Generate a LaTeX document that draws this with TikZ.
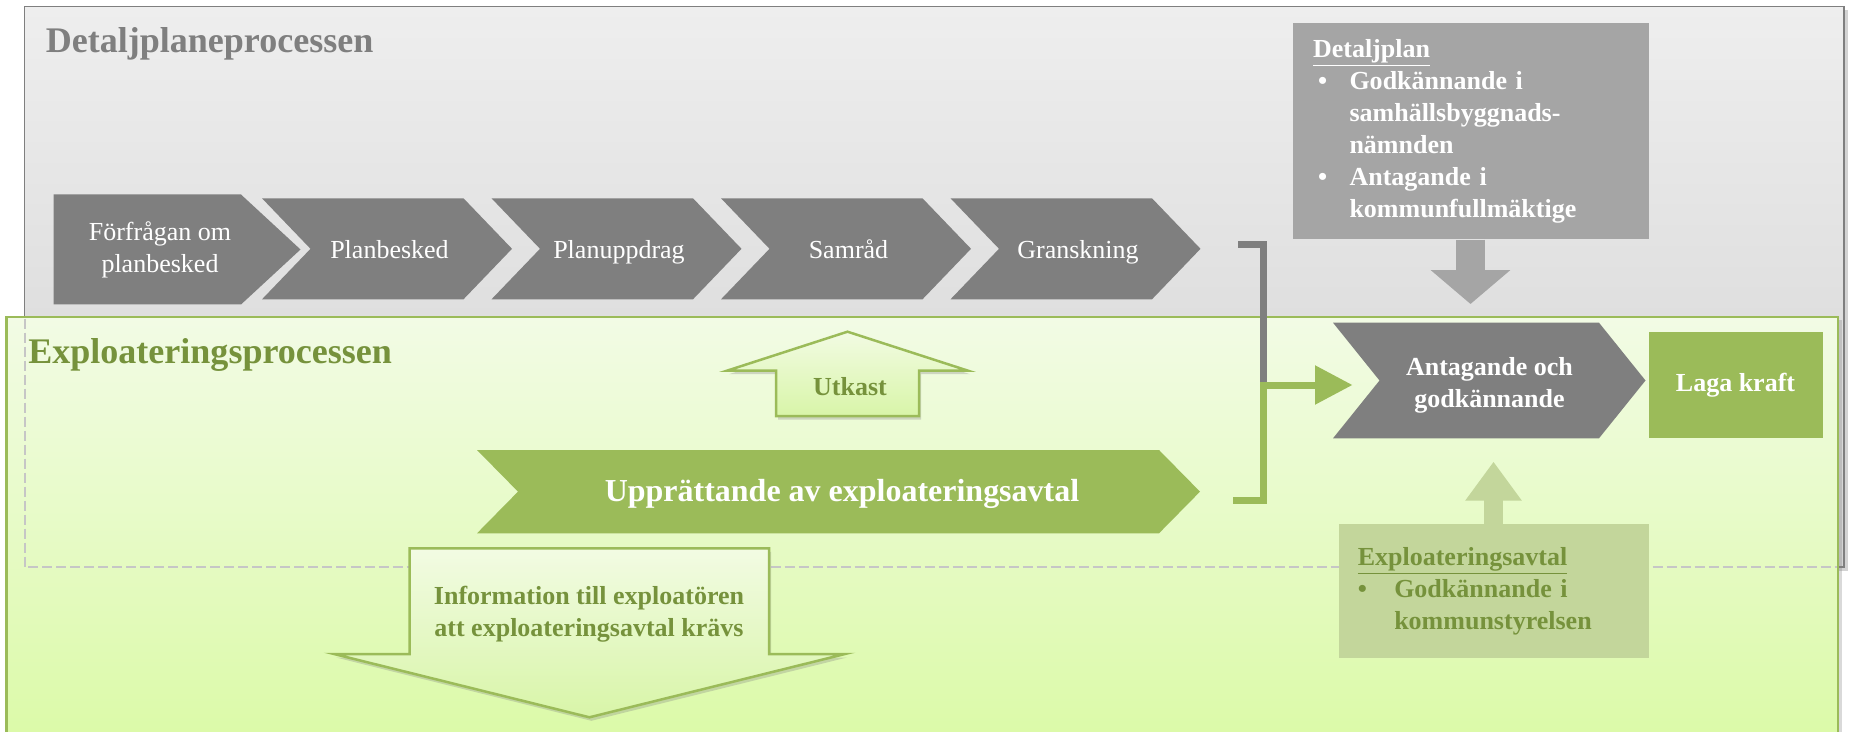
\documentclass[tikz,border=0pt]{standalone}
\usepackage{fontspec}
\setmainfont{Liberation Serif}
\usetikzlibrary{arrows.meta, shadows}

\definecolor{stepgray}{HTML}{7F7F7F}
\definecolor{boxgray}{HTML}{A5A5A5}
\definecolor{plangreen}{HTML}{9BBB59}
\definecolor{palegreen}{HTML}{C3D69B}
\definecolor{darkgreen}{HTML}{76923C}
\definecolor{lanetop}{HTML}{EEEEEE}
\definecolor{lanebot}{HTML}{D3D3D3}
\definecolor{greentop}{HTML}{F2FBE5}
\definecolor{greenbot}{HTML}{DBFAA7}
\definecolor{arrowtop}{HTML}{F2FBE3}
\definecolor{arrowbot}{HTML}{D8F5A8}

\tikzset{
  every node/.style={font=\fontsize{14.8}{18.2}\selectfont, inner sep=0pt},
  title/.style     = {font=\fontsize{20.5}{24}\selectfont\bfseries, anchor=base west},
  graylane/.style  = {draw=stepgray, line width=0.03cm, top color=lanetop, bottom color=lanebot,
                      drop shadow={shadow xshift=0.07cm, shadow yshift=-0.07cm, opacity=0.35}},
  greenlane/.style = {draw=plangreen, line width=0.045cm, top color=greentop, bottom color=greenbot,
                      drop shadow={shadow xshift=0.07cm, shadow yshift=-0.07cm, opacity=0.3}},
  seam/.style      = {draw=gray!45, line width=0.03cm, dash pattern=on 0.2cm off 0.08cm},
  stage/.style     = {fill=stepgray},
  stagetxt/.style  = {text=white, align=center},
  boldtxt/.style   = {font=\fontsize{14.8}{18.2}\selectfont\bfseries, align=center},
  detbox/.style    = {fill=boxgray, text=white, font=\fontsize{14.8}{18.2}\selectfont\bfseries,
                      align=left, text width=6.3cm, inner xsep=0.41cm, minimum height=4.32cm},
  explbox/.style   = {fill=palegreen, text=darkgreen, font=\fontsize{14.8}{18.2}\selectfont\bfseries,
                      align=left, text width=5.43cm, inner xsep=0.385cm, minimum height=2.674cm},
  lagabox/.style   = {fill=plangreen, text=white, font=\fontsize{14.8}{18.2}\selectfont\bfseries,
                      minimum width=3.48cm, minimum height=2.13cm},
  blockarrow/.style = {draw=plangreen, line width=0.05cm, top color=arrowtop, bottom color=arrowbot,
                       drop shadow={shadow xshift=0.04cm, shadow yshift=-0.07cm, opacity=0.3}},
  grayconn/.style  = {draw=stepgray, line width=0.14cm},
  greenconn/.style = {draw=plangreen, line width=0.14cm, -{Triangle[length=0.75cm,width=0.75cm]}},
  downblock/.style = {draw=boxgray, line width=0.58cm, -{Triangle[length=0.68cm,width=1.56cm]}},
  upblock/.style   = {draw=palegreen, line width=0.38cm, -{Triangle[length=0.78cm,width=1.08cm]}},
}

\begin{document}
\begin{tikzpicture}
  \useasboundingbox (0,0) rectangle (37.06,-14.64);

  % Detaljplaneprocessen
  \draw[graylane] (0.49,-0.134) rectangle (36.88,-11.34);
  \node[title, text=stepgray] (dtitle) at (0.91,-1.06) {Detaljplaneprocessen};

  \fill[stage] (1.07,-3.89) -- (4.82,-3.89) -- (6.01,-4.99) -- (4.82,-6.09) -- (1.07,-6.09) -- cycle;
  \node[stagetxt] (forfragan) at (3.2,-5.0) {Förfrågan om\\planbesked};
  \foreach \x/\nm/\txt in {5.24/planbesked/Planbesked, 9.83/planuppdrag/Planuppdrag,
                          14.42/samrad/Samråd, 19.01/granskning/Granskning}{
    \fill[stage] (\x,-3.966) -- ++(4.03,0) -- ++(0.97,-1.01) -- ++(-0.97,-1.01)
                 -- ++(-4.03,0) -- ++(0.97,1.01) -- cycle;
    \node[stagetxt, anchor=base] (\nm) at (\x+2.55,-5.16) {\txt};
  }

  \node[detbox] (detalj) at (29.41,-2.626) {\underline{Detaljplan}\\
    \makebox[0.73cm][l]{\hspace{0.1cm}•}Godkännande i\\
    \hspace*{0.73cm}samhällsbyggnads-\\
    \hspace*{0.73cm}nämnden\\
    \makebox[0.73cm][l]{\hspace{0.1cm}•}Antagande i\\
    \hspace*{0.73cm}kommunfullmäktige};
  \coordinate (dtip) at (29.41,-6.08);
  \draw[downblock] (detalj.south) -- (dtip);

  % Exploateringsprocessen
  \draw[greenlane] (0.13,-6.334) rectangle (36.76,-14.9);
  \draw[seam] (0.5,-6.37) |- (36.74,-11.34);
  \node[title, text=darkgreen] (etitle) at (0.56,-7.26) {Exploateringsprocessen};

  \draw[blockarrow] (14.54,-7.414) -- (16.95,-6.634) -- (19.36,-7.414) -- (18.38,-7.414)
                    -- (18.38,-8.32) -- (15.52,-8.32) -- (15.52,-7.414) -- cycle;
  \node[boldtxt, text=darkgreen] (utkast) at (17.0,-7.734) {Utkast};

  \fill[plangreen] (9.54,-9.0) -- (23.18,-9.0) -- (24.0,-9.833) -- (23.18,-10.666)
                   -- (9.54,-10.666) -- (10.36,-9.833) -- cycle;
  \node[text=white, font=\fontsize{18.2}{22}\selectfont\bfseries] (upprattande) at (16.84,-9.87)
    {Upprättande av exploateringsavtal};

  \draw[blockarrow] (8.194,-10.966) -- (15.38,-10.966) -- (15.38,-13.08) -- (16.9,-13.08)
                    -- (11.788,-14.346) -- (6.68,-13.08) -- (8.194,-13.08) -- cycle;
  \node[boldtxt, text=darkgreen] (info) at (11.78,-12.29)
    {Information till exploatören\\att exploateringsavtal krävs};

  \fill[stage] (26.66,-6.454) -- (31.98,-6.454) -- (32.91,-7.61) -- (31.98,-8.766)
               -- (26.66,-8.766) -- (27.59,-7.61) -- cycle;
  \node[boldtxt, text=white] (antagande) at (29.79,-7.70) {Antagande och\\godkännande};
  \node[lagabox, text depth=0.12cm, text height=0.36cm] (laga) at (34.71,-7.70) {Laga kraft};

  \node[explbox] (explavtal) at (29.87,-11.817) {\underline{Exploateringsavtal}\\
    \makebox[0.73cm][l]{•}Godkännande i\\
    \hspace*{0.73cm}kommunstyrelsen};
  \coordinate (etip) at (29.87,-9.234);
  \draw[upblock] (explavtal.north) -- (etip);

  % connectors to the decision
  \coordinate (gstart) at (24.76,-4.9);
  \coordinate (ustart) at (24.66,-10.0);
  \coordinate (join)   at (25.27,-7.7);
  \coordinate (atip)   at (27.05,-7.7);
  \draw[grayconn]  (gstart) -| (join);
  \draw[greenconn] (ustart) -| (join) -- (atip);
\end{tikzpicture}
\end{document}
